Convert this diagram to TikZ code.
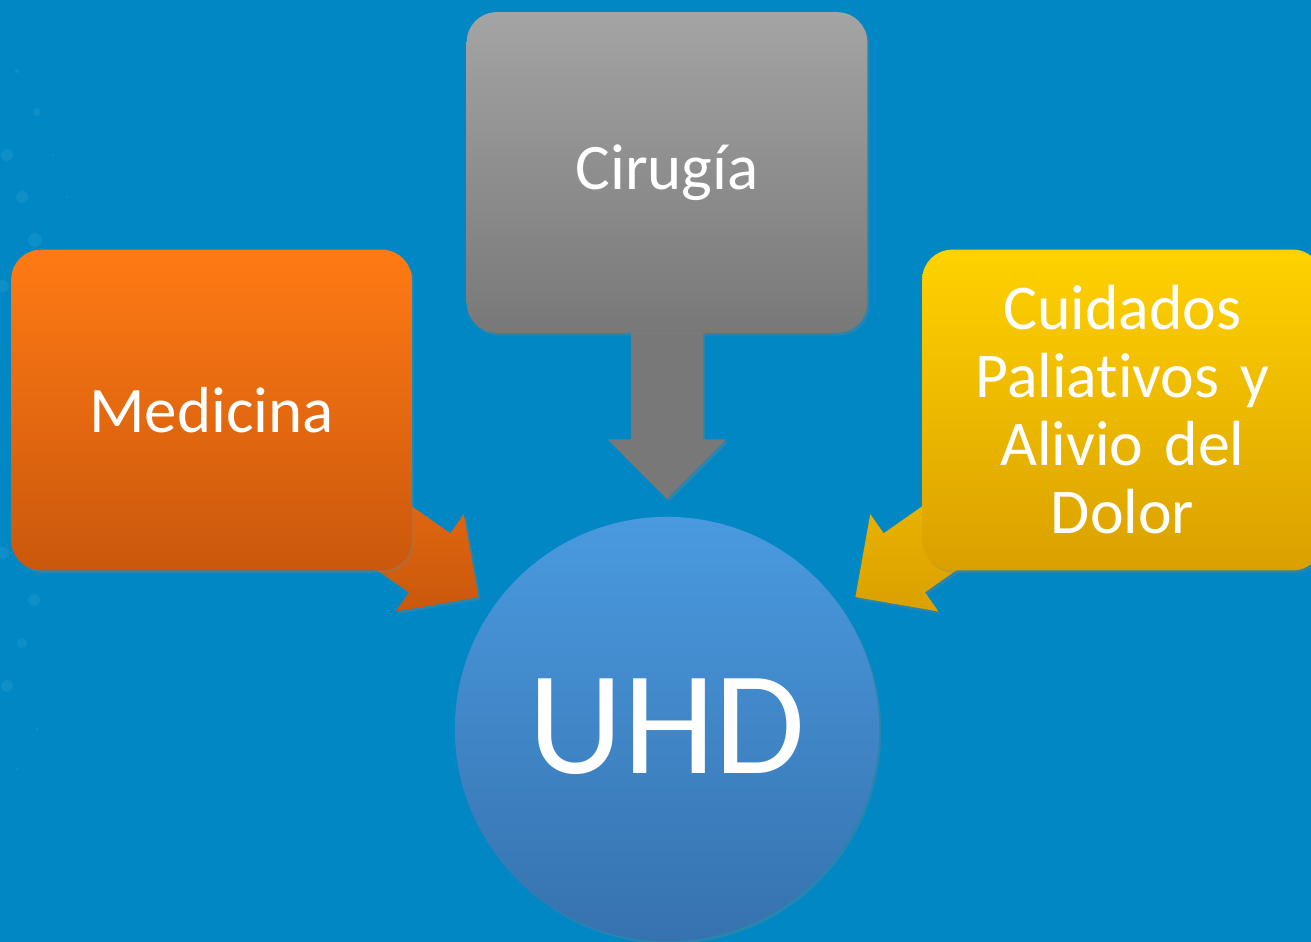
\documentclass[tikz,border=0pt]{standalone}
\usepackage{fontspec}
\setmainfont{Carlito}[Ligatures=NoCommon, WordSpace=0.85]
\usetikzlibrary{calc, shadows}
\pgfdeclarelayer{back}
\pgfdeclarelayer{arrows}
\pgfsetlayers{back,arrows,main}
\definecolor{BgBlue}{RGB}{1,136,196}
\definecolor{GrayTop}{RGB}{164,164,164}
\definecolor{GrayBot}{RGB}{120,120,120}
\definecolor{OrangeTop}{RGB}{255,122,20}
\definecolor{OrangeBot}{RGB}{202,88,12}
\definecolor{YellowTop}{RGB}{255,210,0}
\definecolor{YellowBot}{RGB}{218,160,0}
\definecolor{CircTop}{RGB}{74,154,224}
\definecolor{CircBot}{RGB}{54,114,174}
\tikzset{BoxStyle/.style = {
			shape          = rectangle,
			rounded corners = 17pt,
			minimum width  = 228pt,
			minimum height = 182.5pt,
			inner sep      = 0pt,
			text           = white,
			align          = center,
			font           = \fontsize{37}{38.7}\selectfont,
			drop shadow    = {opacity=0.3, shadow xshift=1.2pt, shadow yshift=-1.5pt}}
			}
\tikzset{UhdStyle/.style = {
			shape          = circle,
			minimum size   = 241.5pt,
			inner sep      = 0pt,
			top color      = CircTop,
			bottom color   = CircBot,
			text           = white,
			font           = \fontsize{84}{90}\selectfont,
			drop shadow    = {opacity=0.3, shadow xshift=1.2pt, shadow yshift=-1.5pt}}
			}
\tikzset{ArrowStyle/.style = {drop shadow = {opacity=0.3, shadow xshift=1.2pt, shadow yshift=-1.5pt}}}
% block arrow from #2 towards the circle, tip 131pt from its centre
\newcommand{\BlockArrow}[2]{%
	\coordinate (tip) at ($(uhd.center)!130.9pt!(#2)$);
	\coordinate (hb) at ($(tip)!34pt!(#2)$);
	\path[ArrowStyle,#1] (tip) -- ($(hb)!33.8pt!90:(tip)$) -- ($(hb)!20.5pt!90:(tip)$)
		-- ($(#2)!20.5pt!90:(tip)$) -- ($(#2)!20.5pt!-90:(tip)$)
		-- ($(hb)!20.5pt!-90:(tip)$) -- ($(hb)!33.8pt!-90:(tip)$) -- cycle;
}

\begin{document}
\begin{tikzpicture}[x=0.02cm,y=-0.02cm]
	\useasboundingbox (0,0) rectangle (1311,942);
	\begin{pgfonlayer}{back}
		\fill[BgBlue] (0,0) rectangle (1311,942);
		\foreach \x/\y/\r in {17/71/2, 37/112/4, 7/155/6, 53/155/1.5, 22/197/6, 67/197/1.5, 35/240/7, 3/286/6,
			3/553/6, 34/600/6, 22/643/5, 7/686/6, 37/729/1.5, 17/769/1.5}
			\fill[white, opacity=0.06] (\x,\y) circle[radius=\r*0.567pt];
	\end{pgfonlayer}

	\draw (667,172.5)  node[BoxStyle, top color=GrayTop, bottom color=GrayBot]     (cir) {Cirugía};
	\draw (211.5,410)  node[BoxStyle, top color=OrangeTop, bottom color=OrangeBot] (med) {Medicina};
	\draw (1122.5,410) node[BoxStyle, top color=YellowTop, bottom color=YellowBot, text width=190pt,
		font=\fontsize{36.3}{38.7}\selectfont] (cui)
		{Cuidados\\Paliativos y\\Alivio del\\Dolor};
	\draw (667,729)    node[UhdStyle] (uhd) {\raisebox{3pt}{UHD}};

	\begin{pgfonlayer}{arrows}
		\BlockArrow{fill=GrayBot}{cir.center}
		\BlockArrow{top color=OrangeTop!90!OrangeBot, bottom color=OrangeBot}{med.center}
		\BlockArrow{top color=YellowTop!80!YellowBot, bottom color=YellowBot}{cui.center}
	\end{pgfonlayer}
\end{tikzpicture}
\end{document}
